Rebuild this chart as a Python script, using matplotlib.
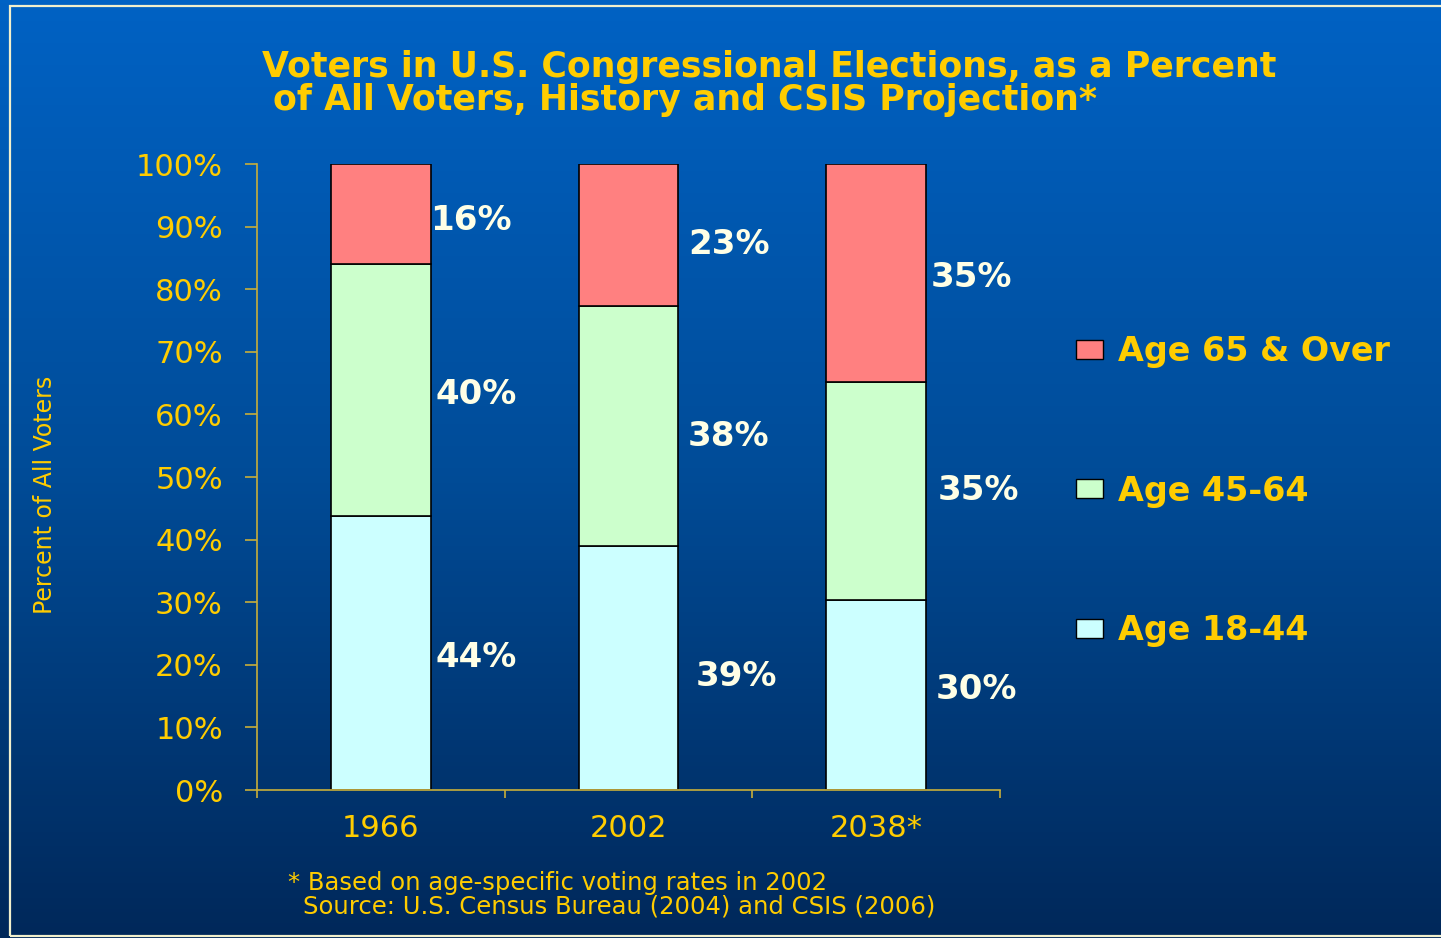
import numpy as np
import matplotlib
matplotlib.use('Agg')
import matplotlib.pyplot as plt
from matplotlib.patches import Patch, Rectangle
from matplotlib.colors import LinearSegmentedColormap

# data
years = ['1966', '2002', '2038*']
age_18_44 = [43.7, 39.0, 30.4]
age_45_64 = [40.3, 38.3, 34.8]
age_65_up = [16.0, 22.7, 34.8]
lbl_18_44 = ['44%', '39%', '30%']
lbl_45_64 = ['40%', '38%', '35%']
lbl_65_up = ['16%', '23%', '35%']
series_names = ['Age 18-44', 'Age 45-64', 'Age 65 & Over']

# label placement (left x in category units, y in percent)
lx_top = [0.20, 1.24, 2.22]; ly_top = [90.9, 87.1, 81.8]
lx_mid = [0.22, 1.24, 2.25]; ly_mid = [63.1, 56.4, 47.9]
lx_bot = [0.22, 1.27, 2.24]; ly_bot = [21.2, 18.1, 16.0]

YEL = '#ffcc00'
AXC = '#c8ae3a'
WHT = '#ffffe6'
C_BOT, C_MID, C_TOP = '#ccffff', '#ccffcc', '#ff8080'

fig = plt.figure(figsize=(14.41, 9.38), dpi=100)

# background gradient
bg = fig.add_axes([0, 0, 1, 1])
cm = LinearSegmentedColormap.from_list('bgc', ['#0062c4', '#004c98', '#00285a'])
grad = np.linspace(0, 1, 256).reshape(-1, 1)
bg.imshow(grad, cmap=cm, aspect='auto', extent=[0, 1, 0, 1], origin='upper')
bg.set_xlim(0, 1); bg.set_ylim(0, 1); bg.axis('off')
bg.add_patch(Rectangle((10/1441, 2/938), 1.1, 930/938, fill=False, clip_on=False,
                       edgecolor='#f2f0cc', lw=1.6, transform=bg.transAxes))

ax = fig.add_axes([257/1441, 1-790/938, 743/1441, 626/938])
ax.set_facecolor('none')
x = np.arange(len(years))
w = 0.403
ax.bar(x, age_18_44, w, color=C_BOT, edgecolor='black', lw=1.2)
ax.bar(x, age_45_64, w, bottom=age_18_44, color=C_MID, edgecolor='black', lw=1.2)
ax.bar(x, age_65_up, w, bottom=np.add(age_18_44, age_45_64), color=C_TOP, edgecolor='black', lw=1.2)

for lbls, lx, ly in [(lbl_65_up, lx_top, ly_top), (lbl_45_64, lx_mid, ly_mid), (lbl_18_44, lx_bot, ly_bot)]:
    for s, xx, yy in zip(lbls, lx, ly):
        ax.text(xx, yy, s, color=WHT, fontsize=24.5, fontweight='bold', ha='left', va='center')

ax.set_xlim(-0.5, 2.5)
ax.set_ylim(0, 100)
for sp in ['top', 'right']:
    ax.spines[sp].set_visible(False)
for sp in ['left', 'bottom']:
    ax.spines[sp].set_color(AXC); ax.spines[sp].set_linewidth(1.2)

ax.set_yticks(np.arange(0, 101, 10))
ax.set_yticklabels([f'{v}%' for v in range(0, 101, 10)])
ax.tick_params(axis='y', colors=AXC, length=8.6, width=1.2, pad=16, labelsize=22, labelcolor=YEL)
ax.set_xticks(x)
ax.set_xticklabels(years)
ax.set_xticks([-0.5, 0.5, 1.5, 2.5], minor=True)
ax.tick_params(axis='x', which='major', length=0, pad=17, labelsize=22, labelcolor=YEL)
ax.tick_params(axis='x', which='minor', length=6, width=1.2, colors=AXC)

fig.text(45/1441, 1-495/938, 'Percent of All Voters', rotation=90, color=YEL, fontsize=17,
         family=['Liberation Sans Narrow', 'DejaVu Sans'], ha='center', va='center')

fig.text(262/1441, 1-67/938, 'Voters in U.S. Congressional Elections, as a Percent',
         color=YEL, fontsize=25, fontweight='bold', ha='left', va='center')
fig.text(273/1441, 1-100/938, 'of All Voters, History and CSIS Projection*',
         color=YEL, fontsize=25, fontweight='bold', ha='left', va='center')

fig.text(288/1441, 1-883/938, '* Based on age-specific voting rates in 2002',
         color=YEL, fontsize=17.5, ha='left', va='center')
fig.text(303/1441, 1-906/938, 'Source: U.S. Census Bureau (2004) and CSIS (2006)',
         color=YEL, fontsize=17.5, ha='left', va='center')

handles = [Patch(facecolor=C_TOP, edgecolor='black'),
           Patch(facecolor=C_MID, edgecolor='black'),
           Patch(facecolor=C_BOT, edgecolor='black')]
leg = fig.legend(handles, series_names[::-1], loc='upper left',
                 bbox_to_anchor=(1046/1441, 1-305/938), frameon=False,
                 fontsize=24, labelspacing=3.2, handlelength=0.8, handleheight=0.5,
                 handletextpad=0.45)
for t in leg.get_texts():
    t.set_color(YEL); t.set_fontweight('bold')

fig.savefig('out.png', dpi=100)
